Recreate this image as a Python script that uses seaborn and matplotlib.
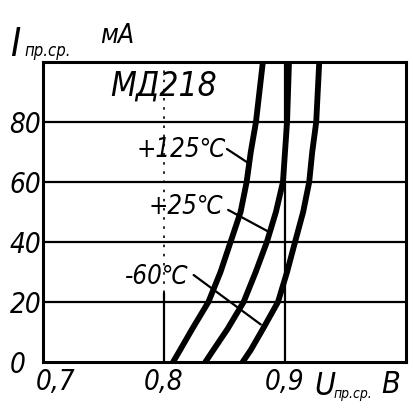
import matplotlib
matplotlib.use("Agg")
import matplotlib.pyplot as plt
import matplotlib.transforms as mtransforms
import numpy as np
import pandas as pd
import seaborn as sns

# ---------------- data ----------------
currents = [0, 4, 11, 20, 30, 40, 50, 60, 70, 80, 100]     # I, mA
u_p125 = [0.8075, 0.8133, 0.8233, 0.8367, 0.8467, 0.855, 0.8633, 0.8683, 0.8717, 0.876, 0.8817]
u_p25 = [0.8342, 0.8408, 0.8525, 0.8658, 0.8758, 0.885, 0.8925, 0.8983, 0.900, 0.9017, 0.9033]
u_m60 = [0.865, 0.8717, 0.8817, 0.8942, 0.9017, 0.9083, 0.915, 0.920, 0.9225, 0.9258, 0.9283]
temp_labels = ["+125℃", "+25℃", "-60℃"]
x_ticks = [0.7, 0.8, 0.9]
x_tick_labels = ["0,7", "0,8", "0,9"]
y_ticks = [0, 20, 40, 60, 80]
y_tick_labels = ["0", "20", "40", "60", "80"]
title = "МД218"

# label positions (data coords) and leader lines
label_pos = [(0.8145, 70.7), (0.818, 51.7), (0.7945, 28.3)]
leaders = [((0.852, 71.0), (0.869, 66.5)),
           ((0.853, 50.7), (0.887, 43.3)),
           ((0.8245, 29.0), (0.880, 12.5))]

# ---------------- fonts ----------------
sns.set_theme(style="white")
plt.rcParams["font.family"] = ["DejaVu Sans"]
plt.rcParams["font.stretch"] = "condensed"
plt.rcParams["font.style"] = "oblique"
plt.rcParams["text.color"] = "black"
plt.rcParams["xtick.color"] = "black"
plt.rcParams["ytick.color"] = "black"

df = pd.concat([
    pd.DataFrame({"U": u, "I": currents, "T": t})
    for u, t in zip([u_p125, u_p25, u_m60], temp_labels)
])

W, H = 413, 411
fig = plt.figure(figsize=(W / 100, H / 100), dpi=100)
fig.patch.set_facecolor("white")
ax = fig.add_axes([43 / W, 1 - 362 / H, (406 - 43) / W, (362 - 62) / H])
ax.set_facecolor("white")

# grid
for yv in [20, 40, 60, 80]:
    ax.axhline(yv, color="black", lw=1.6, zorder=1)
ax.axvline(0.9, color="black", lw=1.6, zorder=1)
ax.plot([0.8, 0.8], [0, 23], color="black", lw=1.6, zorder=1)
ax.plot([0.8, 0.8], [23, 100], color="black", lw=1.2, ls=(0, (1.5, 4)), zorder=1)

sns.lineplot(data=df, x="U", y="I", hue="T", palette=["black"] * 3,
             legend=False, lw=4.2, estimator=None, sort=False, ax=ax, zorder=3)

ax.set_xlim(0.7, 1.0)
ax.set_ylim(0, 100)
for s in ax.spines.values():
    s.set_visible(True)
    s.set_color("black")
    s.set_linewidth(2.2)

ax.set_xticks(x_ticks)
ax.set_xticklabels(x_tick_labels, fontsize=20)
ax.set_yticks(y_ticks)
ax.set_yticklabels(y_tick_labels, fontsize=20)
ax.tick_params(axis="both", length=0)
ax.tick_params(axis="x", pad=4)
ax.tick_params(axis="y", pad=24)
for lab in ax.get_yticklabels():
    lab.set_horizontalalignment("left")
xl = ax.get_xticklabels()
xl[0].set_transform(xl[0].get_transform() + mtransforms.ScaledTranslation(13 / 100, 0, fig.dpi_scale_trans))
ax.set_xlabel("")
ax.set_ylabel("")

# title and temperature labels
ax.text(0.8, 92, title, fontsize=24, ha="center", va="center", zorder=4)
for (x, y), t in zip(label_pos, temp_labels):
    ax.text(x, y, t, fontsize=18.5, ha="center", va="center", zorder=4)
for (p0, p1) in leaders:
    ax.plot([p0[0], p1[0]], [p0[1], p1[1]], color="black", lw=1.6, zorder=2)

# axis labels
fig.text(10 / W, 1 - 56 / H, "I", fontsize=28, ha="left", va="baseline")
fig.text(24 / W, 1 - 56 / H, "пр.ср.", fontsize=12, ha="left", va="baseline")
fig.text(100 / W, 1 - 43 / H, "мА", fontsize=19, ha="left", va="baseline")

fig.text(314 / W, 1 - 395 / H, "U", fontsize=23, ha="left", va="baseline")
fig.text(334 / W, 1 - 398 / H, "пр.ср.", fontsize=10, ha="left", va="baseline")
fig.text(381 / W, 1 - 393 / H, "В", fontsize=22, ha="left", va="baseline")

fig.savefig("out.png", dpi=100, facecolor="white")
